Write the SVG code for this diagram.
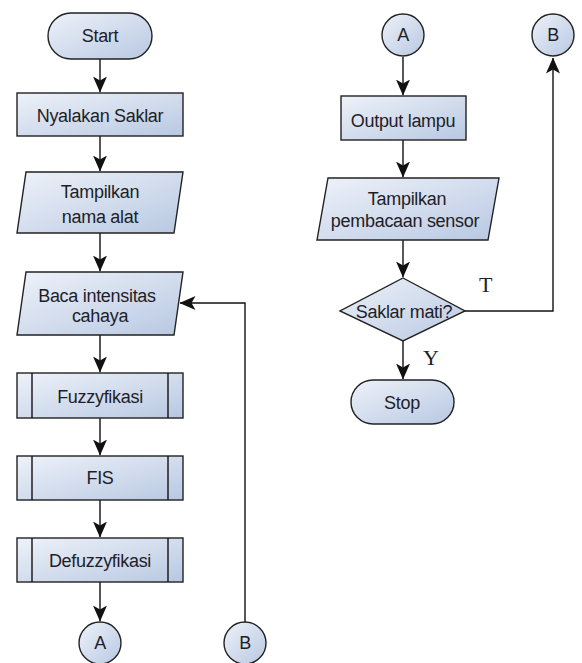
<svg xmlns="http://www.w3.org/2000/svg" width="582" height="663" viewBox="0 0 582 663">
<defs>
<linearGradient id="g" x1="0" y1="0" x2="1" y2="1">
<stop offset="0" stop-color="#eef2f9"/>
<stop offset="1" stop-color="#b8c8e2"/>
</linearGradient>
<marker id="ar" viewBox="0 0 16 14" refX="15.5" refY="7" markerWidth="16" markerHeight="14" markerUnits="userSpaceOnUse" orient="auto">
<path d="M0,0 L16,7 L0,14 L4,7 Z" fill="#111"/>
</marker>
<style>
.s{fill:url(#g);stroke:#222;stroke-width:1.4}
.t{font-family:"Liberation Sans",Arial,sans-serif;font-size:18px;fill:#1e1e28;text-anchor:middle;letter-spacing:-0.3px}
.l{font-family:"Liberation Serif","Times New Roman",serif;font-size:22px;fill:#222}
.c{fill:none;stroke:#111;stroke-width:1.4}
</style>
</defs>
<rect width="582" height="663" fill="#fff"/>
<g id="connectors">
<line class="c" x1="100" y1="59" x2="100" y2="92" marker-end="url(#ar)"/>
<line class="c" x1="100" y1="136" x2="100" y2="171" marker-end="url(#ar)"/>
<line class="c" x1="100" y1="233" x2="100" y2="271" marker-end="url(#ar)"/>
<line class="c" x1="100" y1="335" x2="100" y2="372" marker-end="url(#ar)"/>
<line class="c" x1="100" y1="418" x2="100" y2="455" marker-end="url(#ar)"/>
<line class="c" x1="100" y1="500" x2="100" y2="537" marker-end="url(#ar)"/>
<line class="c" x1="100" y1="582" x2="100" y2="621" marker-end="url(#ar)"/>
<polyline class="c" points="245,622 245,303 180,303" marker-end="url(#ar)"/>
<line class="c" x1="403" y1="57" x2="403" y2="95" marker-end="url(#ar)"/>
<line class="c" x1="403" y1="140" x2="403" y2="177" marker-end="url(#ar)"/>
<line class="c" x1="403" y1="240" x2="403" y2="277" marker-end="url(#ar)"/>
<line class="c" x1="403" y1="341" x2="403" y2="379" marker-end="url(#ar)"/>
<polyline class="c" points="465,311 553,311 553,58" marker-end="url(#ar)"/>
<text class="l" x="479" y="292">T</text>
<text class="l" x="423" y="365">Y</text>
</g>
<g id="start"><rect class="s" x="48" y="13" width="104" height="46" rx="23"/><text class="t" x="100" y="42">Start</text></g>
<g id="nyalakan"><rect class="s" x="17" y="93" width="166" height="43"/><text class="t" x="100" y="122">Nyalakan Saklar</text></g>
<g id="tampilkan-nama"><polygon class="s" points="26,172 183,172 174,233 17,233"/><text class="t" x="100" y="198">Tampilkan</text><text class="t" x="100" y="223">nama alat</text></g>
<g id="baca"><polygon class="s" points="26,272 183,272 174,335 17,335"/><text class="t" x="97" y="302">Baca intensitas</text><text class="t" x="100" y="322">cahaya</text></g>
<g id="fuzzyfikasi"><rect class="s" x="17" y="373" width="166" height="45"/><line class="c" x1="32" y1="373" x2="32" y2="418"/><line class="c" x1="168" y1="373" x2="168" y2="418"/><text class="t" x="100" y="403">Fuzzyfikasi</text></g>
<g id="fis"><rect class="s" x="17" y="456" width="166" height="44"/><line class="c" x1="32" y1="456" x2="32" y2="500"/><line class="c" x1="168" y1="456" x2="168" y2="500"/><text class="t" x="100" y="484">FIS</text></g>
<g id="defuzzyfikasi"><rect class="s" x="17" y="538" width="166" height="44"/><line class="c" x1="32" y1="538" x2="32" y2="582"/><line class="c" x1="168" y1="538" x2="168" y2="582"/><text class="t" x="100" y="567">Defuzzyfikasi</text></g>
<g id="a-out"><circle class="s" cx="100" cy="643" r="21"/><text class="t" x="100" y="649">A</text></g>
<g id="b-in"><circle class="s" cx="245" cy="643" r="21"/><text class="t" x="245" y="649">B</text></g>
<g id="a-in"><circle class="s" cx="403" cy="35" r="21"/><text class="t" x="403" y="41">A</text></g>
<g id="b-out"><circle class="s" cx="553" cy="35" r="21"/><text class="t" x="553" y="41">B</text></g>
<g id="output"><rect class="s" x="341" y="96" width="125" height="44"/><text class="t" x="403" y="127">Output lampu</text></g>
<g id="tampilkan-sensor"><polygon class="s" points="328,178 499,178 488,240 317,240" /><text class="t" x="407" y="205">Tampilkan</text><text class="t" x="405" y="227">pembacaan sensor</text></g>
<g id="decision"><polygon class="s" points="403,278 465,311 403,341 340,311"/><text class="t" x="404" y="318">Saklar mati?</text></g>
<g id="stop"><rect class="s" x="351" y="380" width="103" height="44" rx="22"/><text class="t" x="402" y="409">Stop</text></g>
</svg>
